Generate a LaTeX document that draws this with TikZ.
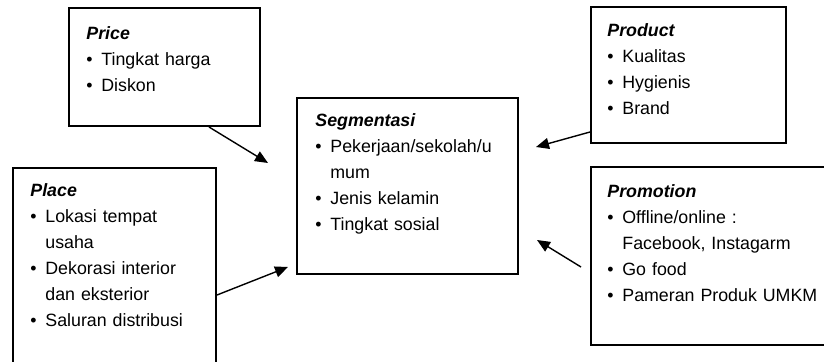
\documentclass[tikz,border=0pt]{standalone}
\usepackage{fontspec}
\setmainfont{Liberation Sans}
\usetikzlibrary{positioning}
\usetikzlibrary{arrows.meta}

\newcommand{\head}[1]{\textbf{\textit{#1}}\par}
\newcommand{\bitem}[1]{\hangindent=7.5pt\hangafter=1\noindent\makebox[7.5pt][l]{\textbullet}#1\par}

\begin{document}
\begin{tikzpicture}[x=0.5pt,y=-0.5pt,>={Triangle[length=6.5pt,width=5.5pt]},
	block/.style={draw,line width=1pt,rectangle,anchor=north west,inner sep=0pt},
	box text/.style={anchor=base west,inner sep=0pt,text width=#1,align=left,
		font=\fontsize{8.9}{13}\selectfont},
	arrow/.style={->,line width=0.7pt}]

	\path[use as bounding box,clip] (0,0) rectangle (824,362);

	% boxes
	\node[block,minimum width=95.5pt,minimum height=59pt] (price) at (68,7) {};
	\node[block,minimum width=97.5pt,minimum height=68pt] (product) at (590,6) {};
	\node[block,minimum width=110.5pt,minimum height=88pt] (seg) at (296,97) {};
	\node[block,minimum width=101.5pt,minimum height=106.5pt] (place) at (12,167) {};
	\node[block,minimum width=120pt,minimum height=89pt] (promo) at (590,166) {};

	% texts
	\node[below right=16.5pt and 9pt of price.north west,box text=85pt] (price text)
		{\head{Price}\bitem{Tingkat harga}\bitem{Diskon}};
	\node[below right=15.5pt and 8.5pt of product.north west,box text=85pt] (product text)
		{\head{Product}\bitem{Kualitas}\bitem{Hygienis}\bitem{Brand}};
	\node[below right=15pt and 9.5pt of seg.north west,box text=100pt] (seg text)
		{\head{Segmentasi}\bitem{Pekerjaan/sekolah/u\newline mum}\bitem{Jenis kelamin}\bitem{Tingkat sosial}};
	\node[below right=15pt and 9pt of place.north west,box text=95pt] (place text)
		{\head{Place}\bitem{Lokasi tempat\newline usaha}\bitem{Dekorasi interior\newline dan eksterior}\bitem{Saluran distribusi}};
	\node[below right=16pt and 8.5pt of promo.north west,box text=110pt] (promo text)
		{\head{Promotion}\bitem{Offline/online :\newline Facebook, Instagarm}\bitem{Go food}\bitem{Pameran Produk UMKM}};

	% arrow tips
	\coordinate[below left=33pt and 14pt of seg.north west] (price tip);
	\coordinate[below right=25pt and 8.5pt of seg.north east] (product tip);
	\coordinate[above right=17.5pt and 9pt of seg.south east] (promo tip);
	\coordinate[above left=4pt and 4pt of seg.south west] (place tip);

	\draw[arrow] ([xshift=-26pt]price.south east) -- (price tip);
	\draw[arrow] ([yshift=6pt]product.south west) -- (product tip);
	\draw[arrow] ([xshift=-4.5pt,yshift=-50.5pt]promo.north west) -- (promo tip);
	\draw[arrow] ([yshift=-64pt]place.north east) -- (place tip);
\end{tikzpicture}
\end{document}
